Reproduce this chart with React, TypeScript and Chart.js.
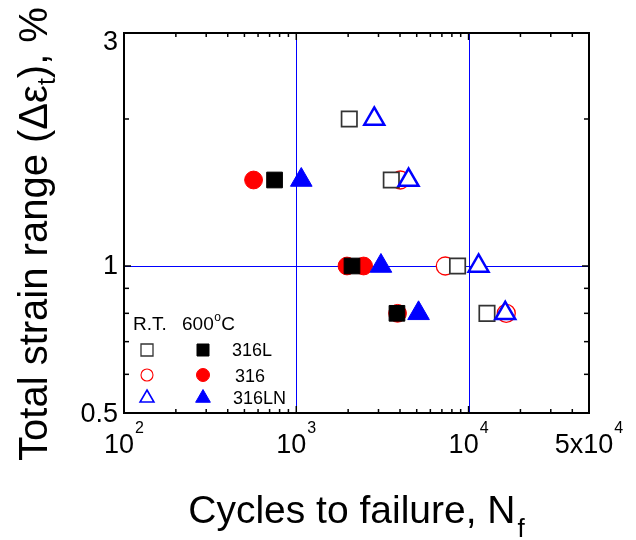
import React, { useEffect, useRef } from 'react';
import { Chart, registerables } from 'chart.js';

Chart.register(...registerables);

// ---- Data (cycles to failure N_f, total strain range %) ----
const cyclesRT316L = [2030, 3560, 8630, 12790];
const strainRT316L = [2.0, 1.5, 1.0, 0.8];
const cyclesRT316 = [4015, 7325, 16550];
const strainRT316 = [1.5, 1.0, 0.8];
const cyclesRT316LN = [2835, 4485, 11430, 16330];
const strainRT316LN = [2.0, 1.5, 1.0, 0.8];
const cyclesHT316L = [748, 2105, 3840];
const strainHT316L = [1.5, 1.0, 0.8];
const cyclesHT316 = [565, 1969, 2458, 3870];
const strainHT316 = [1.5, 1.0, 1.0, 0.8];
const cyclesHT316LN = [1069, 3100, 5125];
const strainHT316LN = [1.5, 1.0, 0.8];

// ---- Axes ----
const xMin = 100;
const xMax = 50000;
const yMin = 0.5;
const yMax = 3;
const xMajorTicks = [100, 1000, 10000, 50000];
const xMinorTicks = [200, 300, 400, 500, 600, 700, 800, 900, 2000, 3000, 4000, 5000, 6000, 7000, 8000, 9000, 20000, 30000, 40000];
const xTickMain = ['10', '10', '10', '5x10'];
const xTickSup = ['2', '3', '4', '4'];
const yMajorTicks = [0.5, 1, 3];
const yMinorTicks = [0.6, 0.7, 0.8, 0.9, 2];
const yTickLabels = ['0.5', '1', '3'];
const xGridLines = [1000, 10000];
const yGridLines = [1];

const FONT = '"Liberation Sans", Arial, sans-serif';

const pts = (xs: number[], ys: number[]) => xs.map((x, i) => ({ x, y: ys[i] }));

function drawMarker(ctx: CanvasRenderingContext2D, style: string, x: number, y: number, r: number, fill: string | null, stroke: string, lw: number) {
  ctx.beginPath();
  if (style === 'rect') {
    ctx.rect(x - r, y - r, 2 * r, 2 * r);
  } else if (style === 'circle') {
    ctx.arc(x, y, r, 0, Math.PI * 2);
  } else {
    ctx.moveTo(x, y - r);
    ctx.lineTo(x + 0.866 * r, y + 0.5 * r);
    ctx.lineTo(x - 0.866 * r, y + 0.5 * r);
    ctx.closePath();
  }
  if (fill) {
    ctx.fillStyle = fill;
    ctx.fill();
  }
  ctx.lineWidth = lw;
  ctx.strokeStyle = stroke;
  ctx.stroke();
}

const gridPlugin = {
  id: 'blueGrid',
  beforeDatasetsDraw(chart: any) {
    const { ctx, chartArea: a } = chart;
    const xs = chart.scales.x;
    const ys = chart.scales.y;
    ctx.save();
    ctx.strokeStyle = '#0000ff';
    ctx.lineWidth = 1;
    xGridLines.forEach((v) => {
      const p = Math.round(xs.getPixelForValue(v)) + 0.5;
      ctx.beginPath();
      ctx.moveTo(p, a.top);
      ctx.lineTo(p, a.bottom);
      ctx.stroke();
    });
    yGridLines.forEach((v) => {
      const p = Math.round(ys.getPixelForValue(v)) + 0.5;
      ctx.beginPath();
      ctx.moveTo(a.left, p);
      ctx.lineTo(a.right, p);
      ctx.stroke();
    });
    ctx.restore();
  },
};

const decorPlugin = {
  id: 'decor',
  afterDraw(chart: any) {
    const { ctx, chartArea: a } = chart;
    const xs = chart.scales.x;
    const ys = chart.scales.y;
    ctx.save();
    // frame
    ctx.strokeStyle = '#000';
    ctx.lineWidth = 2;
    ctx.strokeRect(a.left, a.top, a.right - a.left, a.bottom - a.top);
    // ticks (inward)
    ctx.lineWidth = 1.5;
    const seg = (x1: number, y1: number, x2: number, y2: number) => {
      ctx.beginPath();
      ctx.moveTo(x1, y1);
      ctx.lineTo(x2, y2);
      ctx.stroke();
    };
    xMajorTicks.forEach((v) => {
      const p = xs.getPixelForValue(v);
      seg(p, a.bottom, p, a.bottom - 7);
      seg(p, a.top, p, a.top + 7);
    });
    xMinorTicks.forEach((v) => {
      const p = xs.getPixelForValue(v);
      seg(p, a.bottom, p, a.bottom - 4);
      seg(p, a.top, p, a.top + 4);
    });
    yMajorTicks.forEach((v) => {
      const p = ys.getPixelForValue(v);
      seg(a.left, p, a.left + 7, p);
      seg(a.right, p, a.right - 7, p);
    });
    yMinorTicks.forEach((v) => {
      const p = ys.getPixelForValue(v);
      seg(a.left, p, a.left + 5, p);
      seg(a.right, p, a.right - 5, p);
    });

    ctx.fillStyle = '#000';
    ctx.textBaseline = 'alphabetic';
    // x tick labels
    xMajorTicks.forEach((v, i) => {
      const p = xs.getPixelForValue(v);
      ctx.font = `27px ${FONT}`;
      const wm = ctx.measureText(xTickMain[i]).width;
      ctx.font = `16px ${FONT}`;
      const ws = ctx.measureText(xTickSup[i]).width;
      const start = p - (wm + ws + 1) / 2;
      ctx.textAlign = 'left';
      ctx.font = `27px ${FONT}`;
      ctx.fillText(xTickMain[i], start, a.bottom + 40);
      ctx.font = `16px ${FONT}`;
      ctx.fillText(xTickSup[i], start + wm + 1, a.bottom + 20);
    });
    // y tick labels
    ctx.font = `27px ${FONT}`;
    ctx.textAlign = 'right';
    yMajorTicks.forEach((v, i) => {
      const p = ys.getPixelForValue(v);
      const base = Math.max(p + 8.5, a.top + 17);
      ctx.fillText(yTickLabels[i], a.left - 6, base);
    });

    // x title
    {
      const main = 'Cycles to failure, N';
      const sub = 'f';
      ctx.font = `39px ${FONT}`;
      const wm = ctx.measureText(main).width;
      ctx.font = `26px ${FONT}`;
      const ws = ctx.measureText(sub).width;
      const cx = (a.left + a.right) / 2;
      const start = cx - (wm + ws + 2) / 2;
      ctx.textAlign = 'left';
      ctx.font = `39px ${FONT}`;
      ctx.fillText(main, start, 523);
      ctx.font = `26px ${FONT}`;
      ctx.fillText(sub, start + wm + 2, 537);
    }
    // y title (rotated)
    {
      const parts: [string, number, number][] = [
        ['Total strain range (\u0394\u03b5', 40, 0],
        ['t', 25, 8],
        ['), %', 40, 0],
      ];
      ctx.save();
      ctx.translate(47, 234);
      ctx.rotate(-Math.PI / 2);
      ctx.textAlign = 'left';
      let total = 0;
      const widths = parts.map(([t, f]) => {
        ctx.font = `${f}px ${FONT}`;
        const w = ctx.measureText(t).width;
        total += w;
        return w;
      });
      let cur = -total / 2;
      parts.forEach(([t, f, dy], i) => {
        ctx.font = `${f}px ${FONT}`;
        ctx.fillText(t, cur, dy);
        cur += widths[i];
      });
      ctx.restore();
    }

    // legend
    ctx.textAlign = 'left';
    ctx.font = `19px ${FONT}`;
    ctx.fillText('R.T.', 133, 330);
    ctx.fillText('600', 182, 330);
    const w600 = ctx.measureText('600').width;
    ctx.font = `12px ${FONT}`;
    ctx.fillText('o', 182 + w600 + 0.5, 321);
    const wo = ctx.measureText('o').width;
    ctx.font = `19px ${FONT}`;
    ctx.fillText('C', 182 + w600 + wo + 1, 330);

    drawMarker(ctx, 'rect', 147, 350, 6, '#fff', '#333', 1.3);
    drawMarker(ctx, 'rect', 203, 350, 6, '#000', '#000', 1);
    drawMarker(ctx, 'circle', 147, 375, 6, '#fff', '#ff0000', 1.1);
    drawMarker(ctx, 'circle', 203, 375, 6.5, '#ff0000', '#ff0000', 1);
    drawMarker(ctx, 'triangle', 147, 398, 8, '#fff', '#0000ff', 1.6);
    drawMarker(ctx, 'triangle', 203, 398, 8.5, '#0000ff', '#0000ff', 1);
    ctx.font = `18px ${FONT}`;
    ctx.fillStyle = '#000';
    ctx.fillText('316L', 232, 356);
    ctx.fillText('316', 235, 382);
    ctx.fillText('316LN', 233, 404);
    ctx.restore();
  },
};

export default function App() {
  const ref = useRef<HTMLCanvasElement | null>(null);
  useEffect(() => {
    if (!ref.current) return;
    const chart = new Chart(ref.current, {
      type: 'scatter',
      data: {
        datasets: [
          { label: '316LN R.T.', data: pts(cyclesRT316LN, strainRT316LN), pointStyle: 'triangle', pointRadius: 11.5, pointHoverRadius: 11.5, borderColor: '#0000ff', backgroundColor: '#ffffff', borderWidth: 2.5, order: 0 },
          { label: '316LN 600C', data: pts(cyclesHT316LN, strainHT316LN), pointStyle: 'triangle', pointRadius: 12.5, pointHoverRadius: 12.5, borderColor: '#0000ff', backgroundColor: '#0000ff', borderWidth: 1, order: 0 },
          { label: '316L R.T.', data: pts(cyclesRT316L, strainRT316L), pointStyle: 'rect', pointRadius: 10.9, pointHoverRadius: 10.9, borderColor: '#333333', backgroundColor: '#ffffff', borderWidth: 1.7, order: 1 },
          { label: '316L 600C', data: pts(cyclesHT316L, strainHT316L), pointStyle: 'rect', pointRadius: 11.1, pointHoverRadius: 11.1, borderColor: '#000000', backgroundColor: '#000000', borderWidth: 1, order: 1 },
          { label: '316 R.T.', data: pts(cyclesRT316, strainRT316), pointStyle: 'circle', pointRadius: 9, pointHoverRadius: 9, borderColor: '#ff0000', backgroundColor: '#ffffff', borderWidth: 1.3, order: 2 },
          { label: '316 600C', data: pts(cyclesHT316, strainHT316), pointStyle: 'circle', pointRadius: 8.9, pointHoverRadius: 8.9, borderColor: '#ff0000', backgroundColor: '#ff0000', borderWidth: 1, order: 2 },
        ],
      },
      options: {
        responsive: false,
        animation: false,
        layout: { padding: { left: 124, right: 47, top: 33, bottom: 127 } },
        plugins: { legend: { display: false }, tooltip: { enabled: false } },
        scales: {
          x: {
            type: 'logarithmic',
            min: xMin,
            max: xMax,
            afterBuildTicks: (scale: any) => {
              scale.ticks = [...xMajorTicks, ...xMinorTicks].sort((p, q) => p - q).map((v) => ({ value: v }));
            },
            ticks: { display: false },
            border: { display: false },
            grid: { display: false, drawTicks: false },
          },
          y: {
            type: 'logarithmic',
            min: yMin,
            max: yMax,
            afterBuildTicks: (scale: any) => {
              scale.ticks = [...yMajorTicks, ...yMinorTicks].sort((p, q) => p - q).map((v) => ({ value: v }));
            },
            ticks: { display: false },
            border: { display: false },
            grid: { display: false, drawTicks: false },
          },
        },
      },
      plugins: [gridPlugin, decorPlugin],
    } as any);
    return () => chart.destroy();
  }, []);
  return (
    <div style={{ position: 'absolute', left: 0, top: 0, width: 636, height: 540, background: '#fff' }}>
      <canvas ref={ref} width={636} height={540} style={{ display: 'block' }} />
    </div>
  );
}
